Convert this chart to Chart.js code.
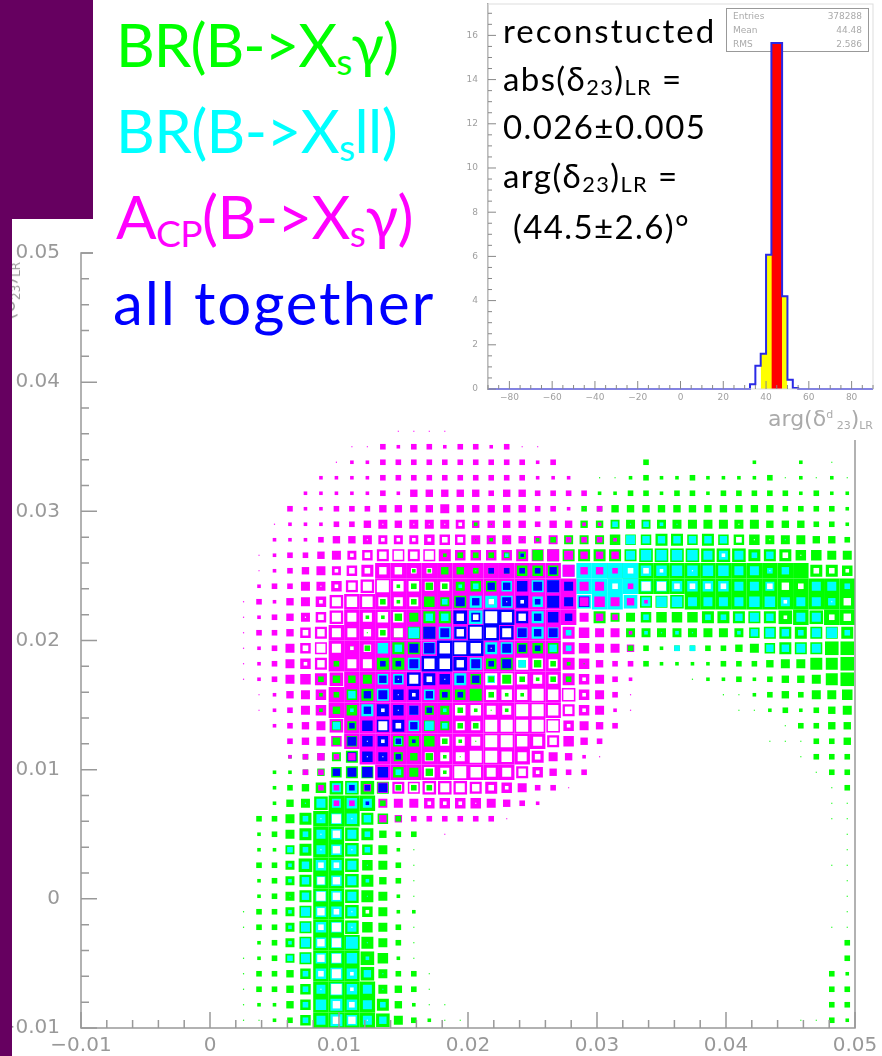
<!DOCTYPE html>
<html>
<head>
<meta charset="utf-8">
<title>delta23 LR</title>
<script src="https://cdn.jsdelivr.net/npm/chart.js@4"></script>
<style>
  html, body { margin: 0; padding: 0; background: #fff; }
  #page { position: relative; width: 882px; height: 1056px; overflow: hidden; background: #fff; }
  #page canvas { position: absolute; filter: blur(0.6px); }
  #main-wrap { position: absolute; left: 0; top: 0; width: 882px; height: 1056px; }
  .purple { position: absolute; background: #660060; }
  #y-title { position: absolute; left: -4px; top: 262px; color: #999; font: 20px "DejaVu Sans"; white-space: nowrap;
    transform-origin: 0 0; transform: rotate(-90deg) translateX(-100%); }
  #y-title sub { font-size: 12px; line-height: 0; }
  #legend-box { position: absolute; left: 93px; top: 0; width: 369px; height: 345px; background: #fff; }
  .big { position: absolute; white-space: nowrap; font-family: Lato, sans-serif; line-height: 1; }
  .big sub { font-size: 0.62em; vertical-align: -0.22em; line-height: 0; }
  #inset-box { position: absolute; left: 462px; top: 0; width: 420px; height: 440px; background: #fff; }
  #inset-box canvas { left: 0; top: 0; }
  #stats { position: absolute; left: 264px; top: 8px; width: 141px; height: 42px; border: 1px solid #999; color: #aaa;
    font: 9px "DejaVu Sans"; filter: blur(0.4px); }
  #stats div { display: flex; justify-content: space-between; padding: 0 6px; height: 14px; line-height: 14px; }
  #inset-title { position: absolute; left: 306px; top: 406px; color: #aaa; font: 22px "DejaVu Sans"; white-space: nowrap; filter: blur(0.4px); }
  #inset-title sub { font-size: 11px; vertical-align: -3px; line-height: 0; }
  #inset-title sup { font-size: 11px; vertical-align: 8px; line-height: 0; }
  .note { position: absolute; left: 41px; color: #000; font-size: 33px; white-space: nowrap; font-family: Lato, sans-serif; line-height: 1; letter-spacing: 1.4px; }
  .note sub { font-size: 0.66em; vertical-align: -0.2em; line-height: 0; }
</style>
</head>
<body>
<div id="page">
  <div id="main-wrap"><canvas id="chart-main"></canvas></div>
  <div id="y-title">(&delta;<sub>23</sub>)<sub>LR</sub></div>
  <div id="legend-box">
    <div class="big" style="left:23px;top:14px;font-size:60px;color:#00ff00;letter-spacing:-1px">BR(B-&gt;X<sub>s</sub>&gamma;)</div>
    <div class="big" style="left:23px;top:100px;font-size:60px;color:#00ffff;letter-spacing:-0.6px">BR(B-&gt;X<sub>s</sub>ll)</div>
    <div class="big" style="left:23px;top:186px;font-size:60px;color:#ff00ff;letter-spacing:-0.6px">A<sub>CP</sub>(B-&gt;X<sub>s</sub>&gamma;)</div>
    <div class="big" style="left:20px;top:272px;font-size:60px;color:#0000ff;letter-spacing:1.9px">all together</div>
  </div>
  <div id="inset-box">
    <div id="stats">
      <div><span>Entries</span><span>378288</span></div>
      <div><span>Mean</span><span>44.48</span></div>
      <div><span>RMS</span><span>2.586</span></div>
    </div>
    <canvas id="chart-inset"></canvas>
    <div class="note" style="top:14px;letter-spacing:2px">reconstucted</div>
    <div class="note" style="top:62px">abs(&delta;<sub>23</sub>)<sub>LR</sub> =</div>
    <div class="note" style="top:110px">0.026&plusmn;0.005</div>
    <div class="note" style="top:159px">arg(&delta;<sub>23</sub>)<sub>LR</sub> =</div>
    <div class="note" style="top:210px;left:51px">(44.5&plusmn;2.6)&deg;</div>
    <div id="inset-title">arg(&delta;<sup>d</sup><sub>&nbsp;23</sub>)<sub>LR</sub></div>
  </div>
  <div class="purple" style="left:0;top:0;width:12px;height:1056px"></div>
  <div class="purple" style="left:0;top:0;width:93px;height:219px"></div>
</div>
<script>
// main plot: 50 x 50 bins, box sizes 0-9
// every string is one row from the bottom (row 0) up, columns 10..49
const xTickLabels = ['\u22120.01', '0', '0.01', '0.02', '0.03', '0.04', '0.05'];
const yTickLabels = ['\u22120.01', '0', '0.01', '0.02', '0.03', '0.04', '0.05'];

const greenBoxes = [
  '1123699998 5321100000 0000000000 0000001132',
  '1224699997 4211000000 0000000000 0000000033',
  '1334699995 4310000000 0000000000 0000000033',
  '1334699985 3310000000 0000000000 0000000032',
  '1235799986 2100000000 0000000000 0000000003',
  '0235799975 3100000000 0000000000 0000000003',
  '1335799865 3100000000 0000000000 0000000011',
  '1335799865 2200000000 0000000000 0000000001',
  '0235799875 2100000000 0000000000 0000000001',
  '0235799874 3100000000 0000000000 0000000001',
  '0335899865 3100000000 0000000000 0000000011',
  '0225799865 2100000000 0000000000 0000000001',
  '0235799874 3300000000 0000000000 0000000001',
  '0335799976 3000000000 0000000000 0000000011',
  '0024589993 0000000000 0000000000 0000000011',
  '0023468887 3330000000 0000000000 0000000013',
  '0022346770 6542000000 0000000000 0000000133',
  '0002345700 5442100000 0000000000 0000001333',
  '0000004600 6663210000 0000000000 0000111334',
  '0000005500 0065330000 0000000000 0000013344',
  '0000024600 0055321200 0000000000 0011232345',
  '0000023670 0006673220 0000000000 0112343556',
  '0000034450 0000063532 3300000001 2232344578',
  '0000003007 7000006744 3210003222 2333455778',
  '0000000230 7700000066 6000033233 3345677788',
  '0000000013 5770000000 0000055555 5556777777',
  '0000000022 4577000000 0007556666 7777789899',
  '0000000003 2365700000 0000007789 9999999999',
  '0000000000 2343566000 0000099999 9999999999',
  '0000000000 0224433366 6000999999 9999999776',
  '0000000000 0002333346 7777778888 8887776655',
  '0000000000 0000012112 3555666776 7666555443',
  '0000000000 0000021000 0044555555 5555444332',
  '0000000000 0000000000 0033444444 4444433332',
  '0000000000 0000000000 0002233233 2333332322',
  '0000000000 0000000000 0001123223 2222312121',
  '0000000000 0000000000 0000003000 0002002010'
];

const cyanBoxes = [
  '0000357654', '0000367653', '0000357651', '0000367641', '0003566620',
  '0002566710', '0002566500', '0002566500', '0001466510', '0002456520',
  '0002466510', '0003356530', '0000356530', '0000356640', '0000155650',
  '0000005600',
  '0000000000 3000000000',
  '',
  '0000000000 4000000000',
  '0000004000 0653000000',
  '0000000270 0502000000',
  '0000000407 0060000000',
  '0000000006 6000704000',
  '0000000000 0700070040',
  '0000000006 4070007700 4300000033 0000445500',
  '0000000000 0607700067 6300002121 0024543563',
  '0000000000 0044080007 0000003000 3345405500',
  '0000000000 0003077706 0089985665 5556655540',
  '0000000000 0000230607 7099996666 6655500553',
  '0000000000 0000010000 0799996666 6655340000',
  '0000000000 0000000220 0000056666 5553400000',
  '0000000000 0000000000 0000054444 4430010000',
  '0000000000 0000000000 0000313210'
];

const magentaBoxes = [
  '', '', '', '', '', '', '', '', '', '', '', '',
  '0000000000 0001000000',
  '0000000004 4333333100',
  '0000003305 5566665432',
  '0000033046 7788877653 3100000000',
  '0000330009 9999999976 4330000000',
  '0002343499 9999999997 5421000000',
  '0003456999 9999999999 7643000000',
  '0023458999 9999999999 8654300000',
  '0123569999 9999999999 9765210000',
  '0124569999 9999999999 9865310000',
  '1235678999 9999999999 9765320000',
  '1235679999 9999999999 9764330000',
  '1235679999 9999999999 9765540000',
  '1334679999 9999999999 9765520000',
  '1234568999 9999999999 9954300000',
  '1324568999 9999999999 9956542000',
  '0233556789 9999999999 9955030000',
  '0123455679 9999999999 9744300000',
  '0123345567 7777666677 7544400000',
  '0022234455 5566655544 5333200000',
  '0012223345 4555544443 4422000000',
  '0003223334 4445444443 3213000000',
  '0000222223 2444443443 3330000000',
  '0000022223 3333333332 2200000000',
  '0000001223 3333333332 3000000000',
  '0000000113 2332332311',
  '0000000000 1111000000'
];

const blueBoxes = [
  '', '', '', '', '', '', '', '', '', '', '', '', '', '',
  '0000000020',
  '0000000335',
  '0000004566',
  '0000000565 3000000000',
  '0000000566 3200000000',
  '0000000367 7400000000',
  '0000000047 6530000000',
  '0000000045 6643300000',
  '0000000004 4876440000',
  '0000000003 3599853500',
  '0000000000 0569994543',
  '0000000000 0075799854 5000000000',
  '0000000000 0000859974 6400000000',
  '0000000000 0000543573 7560000000',
  '0000000000 0000004465 7500000000',
  '0000000000 0000003333 4000000000',
  '0000000000 0000000020'
];

const whiteBoxes = [
  '0000004410', '0000004300', '0000016200', '0000035200', '0000045000',
  '0000045000', '0000035100', '0000043120', '0000054000', '0000044000',
  '0000033000', '0000014100', '0000014000', '0000015100',
  '0000000000 0022210000',
  '0000000000 4555543200',
  '0000000000 0065765542',
  '0000000011 0055577653',
  '0000000012 0005557765 4000000000',
  '0000000005 3000557777 6200000000',
  '0000000002 1000665577 6420000000',
  '0000000000 1200006667 6620000000',
  '0000000000 1531007765 5020000000',
  '0000240550 0066400076 5000000000',
  '0000355240 0006761000',
  '0000345545 5000476500',
  '0000135556 6000437640 0000000000 0000020034',
  '0000025665 5500003120 0000000000 0000020014',
  '0000012457 6655000000 0000305533 3300343000',
  '0000002334 4330000000 0000033201 0000100332',
  '0000000234 5450000000 0000000000 0200031000',
  '0000000012 2223300000 0000000000 0031100000',
  '0000000001 0111200000 0000000000 0010000000'
];

// small histogram in the corner
const insetEdges = [-90, 32.5, 35, 37.5, 40, 42.5, 45, 47.5, 50, 52.5, 55, 90];
const insetValues = [0, 0.22, 1.05, 1.6, 6.07, 15.66, 15.66, 4.2, 0.42, 0.05, 0, 0];
const insetXLabels = ['\u221280', '\u221260', '\u221240', '\u221220', '0', '20', '40', '60', '80'];
const insetYLabels = ['0', '2', '4', '6', '8', '10', '12', '14', '16'];

const BINS = 50, X_MIN = -0.01, X_MAX = 0.05, FIRST_COL = 10;
const BIN_W = (X_MAX - X_MIN) / BINS;
// box side in px for a size 0-9
const SIDES = [0, 1.2, 3.6, 5.6, 7.4, 9, 10.5, 12, 13.6, 15.5];

// turn the five layers into one list of boxes, biggest first so they nest
function buildBoxes() {
  const layers = [[greenBoxes, '#00ff00'], [cyanBoxes, '#00ffff'], [magentaBoxes, '#ff00ff'], [blueBoxes, '#0000ff'], [whiteBoxes, '#ffffff']];
  const boxes = [];
  layers.forEach(([rows, color], order) => {
    rows.forEach((row, j) => {
      row.replace(/ /g, '').split('').forEach((c, k) => {
        const v = parseInt(c);
        if (v > 0) boxes.push({ x: X_MIN + (FIRST_COL + k + 0.5) * BIN_W, y: X_MIN + (j + 0.5) * BIN_W, v: v, color: color, order: order });
      });
    });
  });
  return boxes.sort((a, b) => b.v - a.v || a.order - b.order);
}

// fixed axis size, no extra room for the end labels
function fixAxis(s, size) {
  if (s.isHorizontal()) s.height = size; else s.width = size;
  s.paddingLeft = s.paddingRight = s.paddingTop = s.paddingBottom = 0;
}

// ROOT style ticks, pointing into the frame
const innerTicks = {
  id: 'innerTicks',
  afterDraw(chart, args, o) {
    const { ctx, chartArea: a, scales: { x, y } } = chart;
    const isMajor = (v, m) => Math.abs(v / m - Math.round(v / m)) < 1e-6;
    ctx.save();
    if (o.frame) {
      ctx.strokeStyle = o.frame;
      ctx.lineWidth = o.width;
      ctx.strokeRect(a.left, a.top, a.right - a.left, a.bottom - a.top);
    }
    ctx.strokeStyle = o.color;
    ctx.lineWidth = o.width;
    ctx.beginPath();
    x.ticks.forEach(t => {
      const px = x.getPixelForValue(t.value);
      ctx.moveTo(px, a.bottom);
      ctx.lineTo(px, a.bottom - (isMajor(t.value, o.majorX) ? o.long : o.short));
    });
    y.ticks.forEach(t => {
      const py = y.getPixelForValue(t.value);
      ctx.moveTo(a.left, py);
      ctx.lineTo(a.left + (isMajor(t.value, o.majorY) ? o.long : o.short), py);
    });
    ctx.stroke();
    ctx.restore();
  }
};

function initMain() {
  const grey = '#999999';
  new Chart(document.getElementById('chart-main'), {
    type: 'scatter',
    data: { datasets: [{
      data: buildBoxes(),
      pointStyle: 'rect',
      pointBorderWidth: 0,
      pointBackgroundColor: c => c.raw ? c.raw.color : grey,
      pointRadius: c => c.raw ? SIDES[c.raw.v] / Math.SQRT2 : 0
    }] },
    options: {
      responsive: false, animation: false, events: [],
      layout: { autoPadding: false, padding: { top: 253, right: 27, left: 0, bottom: 0 } },
      plugins: {
        legend: { display: false }, tooltip: { enabled: false },
        innerTicks: { color: grey, width: 1.5, long: 16, short: 8, majorX: 0.01, majorY: 0.01, frame: grey }
      },
      scales: {
        x: {
          type: 'linear', min: X_MIN, max: X_MAX,
          grid: { display: false, drawTicks: false }, border: { display: false },
          afterBuildTicks: s => { s.ticks = Array.from({ length: 31 }, (_, i) => ({ value: X_MIN + i * 0.002 })); },
          afterFit: s => fixAxis(s, 28),
          ticks: { autoSkip: false, maxRotation: 0, padding: 6, color: grey, font: { family: 'DejaVu Sans', size: 20 },
            callback: (v, i) => i % 5 === 0 ? xTickLabels[i / 5] : '' }
        },
        y: {
          type: 'linear', min: X_MIN, max: X_MAX,
          grid: { display: false, drawTicks: false }, border: { display: false },
          afterBuildTicks: s => { s.ticks = Array.from({ length: 31 }, (_, i) => ({ value: X_MIN + i * 0.002 })); },
          afterFit: s => fixAxis(s, 81),
          ticks: { autoSkip: false, padding: 21, color: grey, font: { family: 'DejaVu Sans', size: 20 },
            callback: (v, i) => i % 5 === 0 ? yTickLabels[i / 5] : '' }
        }
      }
    },
    plugins: [innerTicks]
  });
}

function initInset() {
  const grey = '#a0a0a0';
  const pts = insetEdges.map((e, i) => ({ x: e, y: insetValues[i] }));
  const band = (lo, hi) => pts.filter(p => p.x >= lo && p.x <= hi);
  new Chart(document.getElementById('chart-inset'), {
    type: 'line',
    data: { datasets: [
      { data: pts, stepped: 'before', borderColor: '#2a2ae6', borderWidth: 2, pointRadius: 0, fill: false, order: 0, clip: false },
      { data: band(42.5, 47.5), stepped: 'before', borderWidth: 0, pointRadius: 0, backgroundColor: '#ff0000', fill: 'origin', order: 1 },
      { data: band(37.5, 50), stepped: 'before', borderWidth: 0, pointRadius: 0, backgroundColor: '#ffff00', fill: 'origin', order: 2 }
    ] },
    options: {
      responsive: false, animation: false, events: [],
      layout: { autoPadding: false, padding: { top: 4, right: 9, left: 0, bottom: 0 } },
      plugins: {
        legend: { display: false }, tooltip: { enabled: false },
        innerTicks: { color: '#888888', width: 1, long: 8, short: 4, majorX: 20, majorY: 2, frame: '#dddddd' }
      },
      scales: {
        x: {
          type: 'linear', min: -90, max: 90,
          grid: { display: false, drawTicks: false }, border: { display: false },
          afterBuildTicks: s => { s.ticks = Array.from({ length: 37 }, (_, i) => ({ value: -90 + i * 5 })); },
          afterFit: s => fixAxis(s, 51),
          ticks: { autoSkip: false, maxRotation: 0, padding: 3, color: grey, font: { family: 'DejaVu Sans', size: 9 },
            callback: v => v % 20 === 0 ? insetXLabels[(v + 80) / 20] : '' }
        },
        y: {
          type: 'linear', min: 0, max: 17.42,
          grid: { display: false, drawTicks: false }, border: { display: true, color: '#999999', width: 1.5 },
          afterBuildTicks: s => { s.ticks = Array.from({ length: 35 }, (_, i) => ({ value: i * 0.5 })); },
          afterFit: s => fixAxis(s, 26),
          ticks: { autoSkip: false, padding: 10, color: grey, font: { family: 'DejaVu Sans', size: 9 },
            callback: v => v % 2 === 0 ? insetYLabels[v / 2] : '' }
        }
      }
    },
    plugins: [innerTicks]
  });
}

const mainCanvas = document.getElementById('chart-main');
mainCanvas.width = 882; mainCanvas.height = 1056;
const insetCanvas = document.getElementById('chart-inset');
insetCanvas.width = 420; insetCanvas.height = 440;
initMain();
initInset();
</script>
</body>
</html>
